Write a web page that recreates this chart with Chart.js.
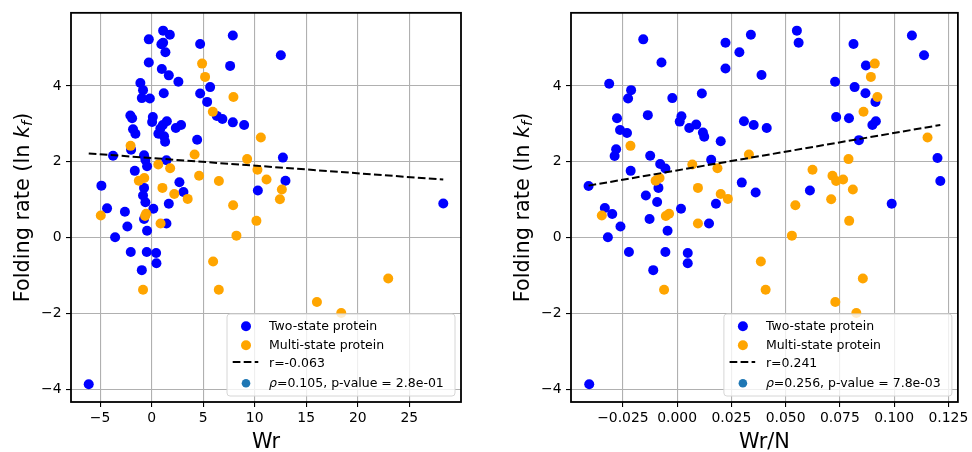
<!DOCTYPE html>
<html>
<head>
<meta charset="utf-8">
<script src="https://cdn.jsdelivr.net/npm/chart.js@4.4.1/dist/chart.umd.min.js"></script>
<style>
  html, body { margin: 0; padding: 0; background: #fff; }
  #wrap { position: relative; width: 972px; height: 452px; }
  canvas { position: absolute; top: 0; }
</style>
</head>
<body>
<div id="wrap">
  <canvas id="chartWr" width="486" height="452" style="left:0"></canvas>
  <canvas id="chartWrN" width="486" height="452" style="left:486px"></canvas>
</div>
<script>
// two-state proteins, left panel (Wr)
var wrTwoState = [1.12, 1.77, -0.27, 1.12, 0.95, 7.88, 4.71, 1.34, -0.27, 7.62, 0.99, 1.67, 2.60, -1.09, -0.83,
  1.18, 4.71, 5.68, -0.95, -0.17, 5.39, -2.06, -1.89, 0.12, 0.05, 1.48, 1.09, 2.86, 2.35, 0.85,
  0.66, 1.21, 1.31, -1.80, -1.57, 4.42, 6.33, 6.87, 7.88, 8.98, -3.74, -1.99, -0.73, -0.60, 1.44,
  -0.44, -1.63, -4.87, 2.70, 3.09, -0.73, -0.83, -0.60, 1.67, -4.32, 10.31, 0.17, -2.59, -0.73, -2.35,
  -0.44, -3.54, -2.02, -0.47, 0.44, 0.47, -0.95, -6.10, 12.54, 12.74, 12.99, 28.30, 1.44];
var lnkfTwoStateA = [5.46, 5.35, 5.23, 5.14, 5.10, 5.33, 5.11, 4.89, 4.62, 4.53, 4.45, 4.28, 4.11, 4.08, 3.89,
  3.81, 3.80, 3.97, 3.68, 3.67, 3.58, 3.22, 3.15, 3.18, 3.05, 3.07, 2.97, 2.97, 2.89, 2.88,
  2.74, 2.67, 2.53, 2.86, 2.74, 2.58, 3.21, 3.13, 3.04, 2.97, 2.16, 2.32, 2.17, 2.05, 2.04,
  1.88, 1.76, 1.37, 1.46, 1.20, 1.31, 1.11, 0.93, 0.89, 0.77, 1.24, 0.76, 0.68, 0.49, 0.29,
  0.18, 0.01, -0.38, -0.38, -0.41, -0.68, -0.86, -3.87, 4.81, 2.11, 1.50, 0.90, 0.37];

// two-state proteins, right panel (Wr/N)
var wrnTwoState = [-0.0156, 0.0340, 0.0223, 0.0287, -0.0072, 0.0223, 0.0389, -0.0313, -0.0212, -0.0226,
  -0.0022, 0.0114, -0.0277, -0.0135, 0.0020, 0.0012, 0.0056, 0.0088, 0.0119, 0.0125,
  0.0201, 0.0308, 0.0353, 0.0413, -0.0263, -0.0231, -0.0281, -0.0288, -0.0124, -0.0078,
  -0.0054, 0.0157, -0.0214, -0.0408, -0.0086, -0.0144, -0.0092, 0.0179, 0.0298, 0.0362,
  -0.0333, 0.0018, -0.0299, -0.0127, -0.0261, -0.0044, 0.0147, -0.0319, -0.0222, -0.0054,
  0.0049, 0.0049, -0.0110, -0.0405, 0.0552, 0.0560, 0.1082, 0.0813, 0.1138, 0.0870,
  0.0728, 0.0818, 0.0868, 0.0914, 0.0733, 0.0792, 0.0916, 0.0900, 0.0838, 0.1200,
  0.1213, 0.0612, 0.0989];
var lnkfTwoStateB = [5.23, 5.35, 5.14, 4.89, 4.62, 4.46, 4.29, 4.06, 3.89, 3.67,
  3.68, 3.80, 3.15, 3.23, 3.20, 3.06, 2.89, 2.98, 2.77, 2.66,
  2.54, 3.07, 2.97, 2.89, 2.84, 2.76, 2.33, 2.15, 2.16, 1.94,
  1.82, 2.05, 1.76, 1.36, 1.31, 1.11, 0.94, 0.89, 1.45, 1.19,
  0.78, 0.76, 0.62, 0.49, 0.29, 0.18, 0.37, 0.01, -0.38, -0.38,
  -0.41, -0.68, -0.86, -3.87, 5.46, 5.14, 5.33, 5.11, 4.81, 4.54,
  4.11, 3.97, 3.81, 3.58, 3.18, 3.15, 3.07, 2.97, 2.57, 2.10,
  1.49, 1.24, 0.89];

// multi-state proteins (same proteins in both panels)
var lnkfMulti = [4.59, 4.24, 3.71, 3.32, 2.64, 2.42, 2.19, 2.07, 1.93, 1.83, 1.79, 1.63, 1.57, 1.53, 1.50,
  1.49, 1.31, 1.27, 1.15, 1.02, 1.01, 0.85, 0.63, 0.57, 0.58, 0.44, 0.37, 0.05, -0.63, -1.08,
  -1.38, -1.38, -1.70, -1.99];
var wrMulti = [4.90, 5.19, 7.94, 5.94, 10.60, -2.04, 4.17, 9.27, 0.65, 1.80, 10.27, 4.61, -0.71, 11.15, -1.24,
  6.53, 1.05, 12.64, 2.20, 3.50, 12.45, 7.91, -0.53, -0.63, -4.93, 10.17, 0.87, 8.23, 5.97, 22.96,
  -0.83, 6.52, 16.04, 18.40];
var wrnMulti = [0.0911, 0.0893, 0.0923, 0.0859, 0.1154, -0.0215, 0.0331, 0.0790, 0.0070, 0.0186, 0.0624, 0.0716, -0.0081, 0.0765, -0.0099,
  0.0733, 0.0096, 0.0810, 0.0201, 0.0234, 0.0710, 0.0545, -0.0037, -0.0052, -0.0347, 0.0793, 0.0096, 0.0529, 0.0386, 0.0856,
  -0.0060, 0.0408, 0.0729, 0.0826];

// regression lines
var fitWrX = [-6.10, 28.30];
var fitWrY = [2.22, 1.53];
var fitWrNX = [-0.0408, 0.1213];
var fitWrNY = [1.37, 2.97];

// ticks
var wrTicks = [-5, 0, 5, 10, 15, 20, 25];
var wrnTicks = [-0.025, 0, 0.025, 0.05, 0.075, 0.1, 0.125];
var lnkfTicks = [-4, -2, 0, 2, 4];

var FONT = '"DejaVu Sans", sans-serif';

function pts(xs, ys) {
  return xs.map(function (x, i) { return { x: x, y: ys[i] }; });
}

function minus(s) { return s.replace('-', '\u2212'); }

function decor(p) {
  return {
    id: 'decor',
    afterDraw: function (chart) {
      var ctx = chart.ctx, a = chart.chartArea;
      ctx.save();
      // frame
      ctx.strokeStyle = '#000';
      ctx.lineWidth = 1.8;
      ctx.strokeRect(a.left, a.top, a.right - a.left, a.bottom - a.top);

      // x label
      ctx.fillStyle = '#000';
      ctx.font = '20.8px ' + FONT;
      ctx.textAlign = 'left';
      ctx.textBaseline = 'alphabetic';
      var w = ctx.measureText(p.xLabel).width;
      ctx.fillText(p.xLabel, (a.left + a.right) / 2 - w / 2, 448);

      // y label with italic k_f
      ctx.save();
      ctx.translate(a.left - 42.5, (a.top + a.bottom) / 2);
      ctx.rotate(-Math.PI / 2);
      var parts = [
        { t: 'Folding rate (ln ', f: '20.8px ' + FONT, dy: 0 },
        { t: 'k', f: 'italic 20.8px ' + FONT, dy: 0 },
        { t: 'f', f: 'italic 14.6px ' + FONT, dy: 3.2 },
        { t: ')', f: '20.8px ' + FONT, dy: 0 }
      ];
      var total = 0;
      parts.forEach(function (q) { ctx.font = q.f; q.w = ctx.measureText(q.t).width; total += q.w; });
      var x = -total / 2;
      parts.forEach(function (q) { ctx.font = q.f; ctx.fillText(q.t, x, q.dy); x += q.w; });
      ctx.restore();

      // legend box, lower right
      var bw = 228, bh = 82;
      var bx = a.right - 6 - bw, by = a.bottom - 6 - bh;
      ctx.beginPath();
      ctx.roundRect(bx, by, bw, bh, 3);
      ctx.fillStyle = 'rgba(255,255,255,0.8)';
      ctx.fill();
      ctx.strokeStyle = '#d6d6d6';
      ctx.lineWidth = 1;
      ctx.stroke();

      var mx = bx + 19, tx = bx + 42;
      ctx.fillStyle = 'blue';
      ctx.beginPath(); ctx.arc(mx, by + 12.3, 5, 0, Math.PI * 2); ctx.fill();
      ctx.fillStyle = 'orange';
      ctx.beginPath(); ctx.arc(mx, by + 31.3, 5, 0, Math.PI * 2); ctx.fill();
      ctx.strokeStyle = '#000';
      ctx.lineWidth = 2;
      ctx.setLineDash([7.7, 3.3]);
      ctx.beginPath(); ctx.moveTo(bx + 5.7, by + 48); ctx.lineTo(bx + 31.3, by + 48); ctx.stroke();
      ctx.setLineDash([]);
      ctx.fillStyle = '#1f77b4';
      ctx.beginPath(); ctx.arc(mx, by + 69.3, 4.3, 0, Math.PI * 2); ctx.fill();

      ctx.fillStyle = '#000';
      ctx.font = '12.5px ' + FONT;
      ctx.fillText('Two-state protein', tx, by + 16);
      ctx.fillText('Multi-state protein', tx, by + 34.7);
      ctx.fillText(p.rText, tx, by + 52.7);
      ctx.font = 'italic 12.5px ' + FONT;
      ctx.fillText('\u03c1', tx, by + 73.3);
      var rw = ctx.measureText('\u03c1').width;
      ctx.font = '12.5px ' + FONT;
      ctx.fillText(p.rhoText, tx + rw, by + 73.3);
      ctx.restore();
    }
  };
}

function makePanel(p) {
  var tickFont = { family: FONT, size: 13.9 };
  return new Chart(document.getElementById(p.id), {
    type: 'scatter',
    data: {
      datasets: [
        { data: pts(p.fitX, p.fitY), showLine: true, borderColor: '#000', borderWidth: 2,
          borderDash: [7.7, 3.3], pointRadius: 0, fill: false, order: 0 },
        { data: pts(p.multiX, lnkfMulti), backgroundColor: 'orange', borderWidth: 0, pointRadius: 5, order: 1 },
        { data: pts(p.twoX, p.twoY), backgroundColor: 'blue', borderWidth: 0, pointRadius: 5, order: 2 }
      ]
    },
    options: {
      responsive: false,
      animation: false,
      devicePixelRatio: 1,
      events: [],
      layout: { padding: { top: 12, right: p.padRight, left: 0, bottom: 0 } },
      plugins: { legend: { display: false }, tooltip: { enabled: false } },
      scales: {
        x: {
          type: 'linear', min: p.xMin, max: p.xMax,
          afterBuildTicks: function (s) { s.ticks = p.xTicks.map(function (v) { return { value: v }; }); },
          afterFit: function (s) { s.height = 50; },
          grid: { color: '#b0b0b0', lineWidth: 1.1, tickColor: '#000', tickLength: 5, tickWidth: 1.1 },
          border: { display: false },
          ticks: { callback: p.fmt, font: tickFont, color: '#000', padding: 3.5, maxRotation: 0, autoSkip: false }
        },
        y: {
          type: 'linear', min: -4.34, max: 5.93,
          afterBuildTicks: function (s) { s.ticks = lnkfTicks.map(function (v) { return { value: v }; }); },
          afterFit: function (s) { s.width = p.yWidth; },
          grid: { color: '#b0b0b0', lineWidth: 1.1, tickColor: '#000', tickLength: 5, tickWidth: 1.1 },
          border: { display: false },
          ticks: { callback: function (v) { return minus(String(v)); }, font: tickFont, color: '#000', padding: 4.5 }
        }
      }
    },
    plugins: [decor(p)]
  });
}

makePanel({
  id: 'chartWr', yWidth: 71, padRight: 25, xMin: -7.82, xMax: 30.02, xTicks: wrTicks,
  fmt: function (v) { return minus(String(v)); },
  twoX: wrTwoState, twoY: lnkfTwoStateA, multiX: wrMulti, fitX: fitWrX, fitY: fitWrY,
  xLabel: 'Wr', rText: 'r=-0.063', rhoText: '=0.105, p-value = 2.8e-01'
});

makePanel({
  id: 'chartWrN', yWidth: 85, padRight: 11, xMin: -0.0489, xMax: 0.1294, xTicks: wrnTicks,
  fmt: function (v) { return minus(v.toFixed(3)); },
  twoX: wrnTwoState, twoY: lnkfTwoStateB, multiX: wrnMulti, fitX: fitWrNX, fitY: fitWrNY,
  xLabel: 'Wr/N', rText: 'r=0.241', rhoText: '=0.256, p-value = 7.8e-03'
});
</script>
</body>
</html>
